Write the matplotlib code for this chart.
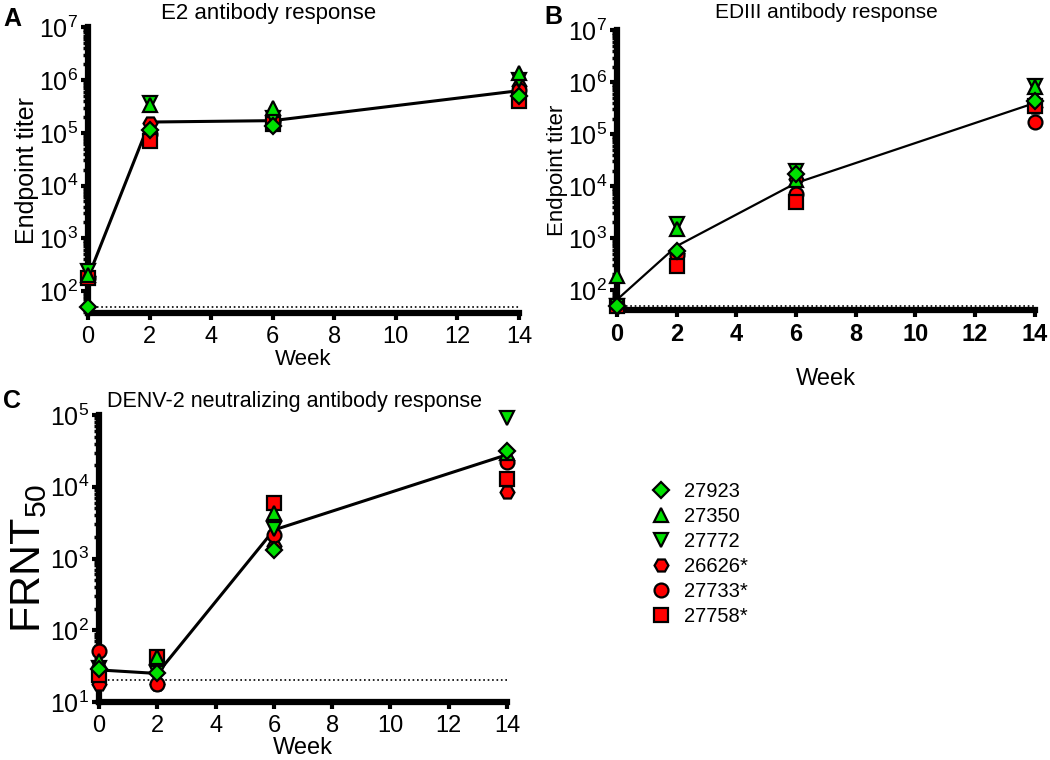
import matplotlib
matplotlib.use("Agg")
import matplotlib.pyplot as plt
from matplotlib.ticker import LogLocator, NullFormatter, LogFormatterMathtext

plt.rcParams["font.family"] = ["Liberation Sans", "DejaVu Sans"]
plt.rcParams["mathtext.fontset"] = "custom"
plt.rcParams["mathtext.rm"] = "Liberation Sans"
plt.rcParams["mathtext.it"] = "Liberation Sans:italic"
plt.rcParams["mathtext.bf"] = "Liberation Sans:bold"
plt.rcParams["mathtext.default"] = "regular"

weeks = [0, 2, 6, 14]
animals = ["27923", "27350", "27772", "26626*", "27733*", "27758*"]
markers = ["D", "^", "v", "H", "o", "s"]
colors = ["#00e000", "#00e000", "#00e000", "#ff0000", "#ff0000", "#ff0000"]

# E2 endpoint titers
e2 = {
    "27923": [50, 115000, 135000, 500000],
    "27350": [200, 340000, 290000, 1380000],
    "27772": [240, 370000, 190000, 1000000],
    "26626*": [190, 155000, 170000, 760000],
    "27733*": [175, 94000, 160000, 660000],
    "27758*": [180, 70000, 150000, 400000],
}
e2_line = [180, 160000, 170000, 630000]

# EDIII endpoint titers
ediii = {
    "27923": [50, 570, 17500, 440000],
    "27350": [190, 1500, 13000, 800000],
    "27772": [50, 1850, 20000, 850000],
    "26626*": [50, 520, 14000, 330000],
    "27733*": [50, 480, 7000, 175000],
    "27758*": [50, 290, 4900, 350000],
}
ediii_line = [65, 700, 11500, 400000]

# DENV-2 FRNT50
frnt = {
    "27923": [29, 25, 1300, 32000],
    "27350": [37, 42, 4300, 30000],
    "27772": [30, 25, 2600, 90000],
    "26626*": [18, 18, 1500, 8500],
    "27733*": [51, 18, 2100, 22000],
    "27758*": [24, 42, 5900, 13000],
}
frnt_line = [28, 25, 2500, 28000]

draw_order = ["26626*", "27733*", "27758*", "27772", "27350", "27923"]


def panel(ax, data, line, lod, ylim, lw):
    ax.set_yscale("log")
    ax.plot([0, 14], [lod, lod], ":", color="black", lw=1.2, zorder=1)
    ax.plot(weeks, line, "-", color="black", lw=lw, zorder=2)
    for a in draw_order:
        i = animals.index(a)
        ax.plot(weeks, data[a], linestyle="none", marker=markers[i],
                ms=10 if markers[i] != "D" else 8, mfc=colors[i], mec="black",
                mew=1.6, clip_on=False, zorder=5, label=a)
    ax.set_xlim(0, 14)
    ax.set_ylim(*ylim)
    ax.set_xticks(range(0, 15, 2))
    ax.yaxis.set_major_locator(LogLocator(base=10, numticks=12))
    ax.yaxis.set_minor_locator(LogLocator(base=10, subs=range(2, 10), numticks=12))
    ax.yaxis.set_major_formatter(LogFormatterMathtext())
    ax.yaxis.set_minor_formatter(NullFormatter())
    for s in ["top", "right"]:
        ax.spines[s].set_visible(False)
    for s in ["left", "bottom"]:
        ax.spines[s].set_linewidth(4.5)
        ax.spines[s].set_capstyle("projecting")
    ax.tick_params(axis="both", which="major", width=3, length=5, pad=2)
    ax.tick_params(axis="y", which="major", labelsize=18)
    ax.tick_params(axis="x", which="major", labelsize=17, pad=4)
    ax.tick_params(axis="y", which="minor", width=2.5, length=3.5)


fig = plt.figure(figsize=(10.5, 7.6), dpi=100)

axA = fig.add_axes([0.0838, 0.588, 0.4105, 0.376])
panel(axA, e2, e2_line, 50, (38, 1e7), 2.2)
axA.set_title("E2 antibody response", fontsize=16, pad=6, x=0.42)
axA.set_xlabel("Week", fontsize=16, labelpad=1)
axA.set_ylabel("Endpoint titer", fontsize=18, labelpad=0)

axB = fig.add_axes([0.5876, 0.592, 0.398, 0.368])
panel(axB, ediii, ediii_line, 50, (41, 1e7), 1.6)
axB.set_title("EDIII antibody response", fontsize=15, pad=9, x=0.5)
axB.set_xlabel("Week", fontsize=17, labelpad=16)
axB.set_ylabel("Endpoint titer", fontsize=16, labelpad=0)
for t in axB.get_xticklabels():
    t.set_fontweight("bold")

axC = fig.add_axes([0.0943, 0.0763, 0.3886, 0.3776])
panel(axC, frnt, frnt_line, 20, (10, 1e5), 2.2)
axC.set_title("DENV-2 neutralizing antibody response", fontsize=15.5, pad=6, x=0.48)
axC.set_xlabel("Week", fontsize=17, labelpad=0)
axC.set_ylabel("FRNT$_{50}$", fontsize=31, labelpad=1)

fig.text(0.003, 0.975, "A", fontsize=18, fontweight="bold", va="center")
fig.text(0.518, 0.978, "B", fontsize=18, fontweight="bold", va="center")
fig.text(0.003, 0.473, "C", fontsize=18, fontweight="bold", va="center")

handles, labels = axC.get_legend_handles_labels()
order = [labels.index(a) for a in animals]
fig.legend([handles[i] for i in order], [labels[i] for i in order],
           loc="upper left", bbox_to_anchor=(0.6, 0.39), frameon=False,
           fontsize=14.5, handletextpad=0.5, labelspacing=0.3, handlelength=1.3)

fig.savefig("out.png", dpi=100)
